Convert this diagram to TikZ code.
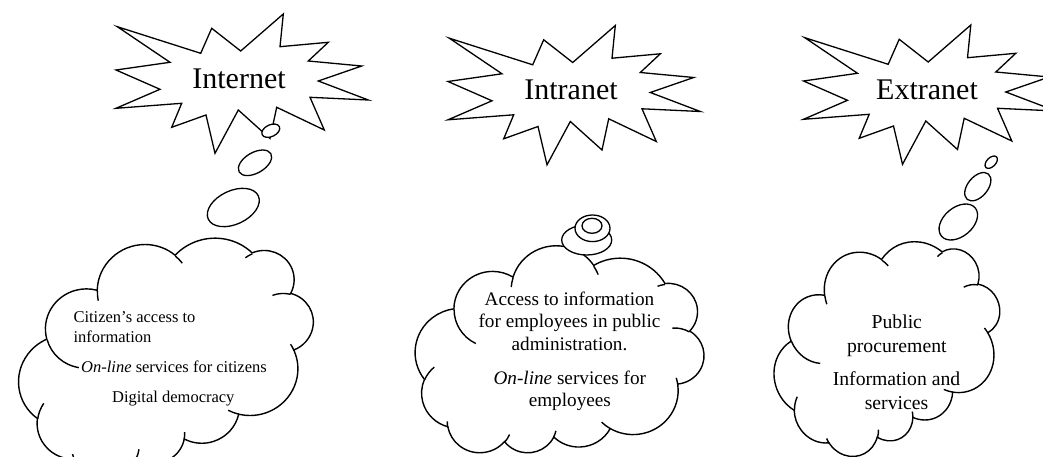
\documentclass[tikz,border=0pt]{standalone}
\usepackage{fontspec}
\setmainfont{Liberation Serif}
\newcommand{\lobe}[4]{arc[x radius=#1,y radius=#2,start angle={atan2(#1*sin(#3),#2*cos(#3))},delta angle={mod(atan2(#1*sin(#3+#4),#2*cos(#3+#4))-atan2(#1*sin(#3),#2*cos(#3))+720,360)}]}
\newcommand{\bangpath}{(117.3,26.7) -- (200.7,53.3) -- (211.7,28.3) -- (240.7,51) -- (283.3,14) -- (280,46.7) -- (328.3,42.3) -- (308.3,61) -- (361.7,66) -- (318.3,81) -- (368.3,100) -- (310,97.3) -- (324.3,130) -- (276.7,107.3) -- (270,138.5) -- (238.3,110) -- (215,153.3) -- (206,115) -- (171.7,127.3) -- (181.7,103.3) -- (116,108.3) -- (160,89.3) -- (116,70) -- (170,62.3) -- cycle}
\newcommand{\cloudrim}{(39,143.7) \lobe{67.53}{91.90}{-190.4875}{123.7805} \lobe{53.33}{72.67}{-144.1024}{89.9452} \lobe{43.65}{59.45}{-145.8079}{99.7230} \lobe{48.57}{65.95}{-130.9861}{117.2417} \lobe{53.33}{72.73}{-78.7089}{109.0269} \lobe{67.75}{92.20}{-46.2673}{130.269} \lobe{57.85}{78.67}{0.625}{114.0333} \lobe{67.52}{92.15}{22.4516}{115.1726} \lobe{77.20}{105.43}{66.2426}{75.7110} \lobe{43.60}{59.18}{-274.9421}{146.7356} \lobe{43.45}{59.45}{-246.8285}{152.5189} -- cycle}
\newcommand{\cloudhooks}{(46.93,261.77) \lobe{43.45}{59.45}{86.742}{26.4295} (69.28,348.99) \lobe{43.60}{59.18}{73.6105}{11.4475} (164.78,390.90) \lobe{67.52}{92.15}{137.6242}{14.0811} (288.27,347.51) \lobe{67.52}{92.15}{6.4533}{15.9984} (341.29,229.54) \lobe{57.85}{78.67}{-70.2924}{70.9174} (417.98,153.54) \lobe{53.33}{72.73}{30.318}{27.7515} (383.24,54.26) \lobe{48.57}{65.95}{-13.7443}{14.8589} (290.78,39.52) \lobe{48.57}{65.95}{-149.1815}{18.1954} (221.41,47.20) \lobe{43.65}{59.45}{-163.4943}{17.6864} (140.00,51.92) \lobe{67.53}{91.90}{-66.707}{12.3194} (41.27,157.89) \lobe{67.53}{91.90}{157.6544}{11.8582}}
\tikzset{
    bang/.style={draw=black,line width=1.3pt,fill=white,line join=miter},
    puff/.style={draw=black,line width=1.4pt,fill=white},
    hook/.style={draw=black,line width=1.4pt},
    bubble/.style={draw=black,line width=1.3pt,fill=white},
    head/.style={anchor=base,inner sep=0pt,font=\fontsize{30}{36}\selectfont},
    say/.style={anchor=base,inner sep=0pt,align=center},
}
\begin{document}
\begin{tikzpicture}[x=1pt,y=1pt,yscale=-1]
    \useasboundingbox (0,0) rectangle (1043,457);
    \clip (0,0) rectangle (1043,457);

    % explosions
    \draw[bang] \bangpath;
    \draw[bang,shift={(332,11.5)}] \bangpath;
    \draw[bang,shift={(687.5,11)}] \bangpath;

    % clouds
    \begin{scope}[shift={(165,350)},rotate=164,xscale=0.70,yscale=0.50,shift={(-216,-216)}]
        \draw[puff] \cloudrim;
        \draw[hook] \cloudhooks;
    \end{scope}
    \begin{scope}[shift={(559.5,350)},rotate=180,xscale=0.668,yscale=0.479,shift={(-216,-216)}]
        \draw[puff] \cloudrim;
        \draw[hook] \cloudhooks;
    \end{scope}
    \begin{scope}[shift={(886,342)},rotate=157,xscale=0.55,yscale=0.44,shift={(-216,-216)}]
        \draw[puff] \cloudrim;
        \draw[hook] \cloudhooks;
    \end{scope}

    % thought bubbles
    \draw[bubble,rotate around={-25:(233.3,207.5)}] (233.3,207.5) ellipse[x radius=27.6,y radius=16.8];
    \draw[bubble,rotate around={-30:(255,162.8)}] (255,162.8) ellipse[x radius=18.3,y radius=10.3];
    \draw[bubble,rotate around={-25:(270.8,130.7)}] (270.8,130.7) ellipse[x radius=9.5,y radius=5.9];

    \draw[bubble] (586.7,240) ellipse[x radius=25,y radius=15];
    \draw[bubble] (592.5,228.3) ellipse[x radius=17.5,y radius=13.3];
    \draw[bubble] (592,225.8) ellipse[x radius=10,y radius=7.5];

    \draw[bubble,rotate around={-40:(958.3,222)}] (958.3,222) ellipse[x radius=22,y radius=14.5];
    \draw[bubble,rotate around={-50:(977.8,186.7)}] (977.8,186.7) ellipse[x radius=16.5,y radius=10];
    \draw[bubble,rotate around={-45:(991.2,162.2)}] (991.2,162.2) ellipse[x radius=7.5,y radius=4.5];

    % titles
    \node[head] (internet) at (239,88.3) {Internet};
    \node[head] (intranet) at (571,100) {Intranet};
    \node[head] (extranet) at (927,99.3) {Extranet};

    % cloud texts (base = last line)
    \node[say,anchor=base west,align=left,font=\fontsize{16.5}{20}\selectfont] (citizen) at (73.3,342) {Citizen’s access to\\information};
    \node[say,font=\fontsize{16.5}{20}\selectfont] (eservice) at (174,372) {\textit{On-line} services for citizens};
    \node[say,font=\fontsize{16.5}{20}\selectfont] (democracy) at (173.3,402) {Digital democracy};

    \node[say,font=\fontsize{19.2}{22.5}\selectfont] (access) at (569.5,350) {Access to information\\for employees in public\\administration.};
    \node[say,font=\fontsize{19.2}{22.5}\selectfont] (online) at (569.8,406.7) {\textit{On-line} services for\\employees};

    \node[say,font=\fontsize{19.7}{24}\selectfont] (procure) at (896.8,352.7) {Public\\procurement};
    \node[say,font=\fontsize{19.7}{24}\selectfont] (infoserv) at (896.5,409.3) {Information and\\services};
\end{tikzpicture}
\end{document}
